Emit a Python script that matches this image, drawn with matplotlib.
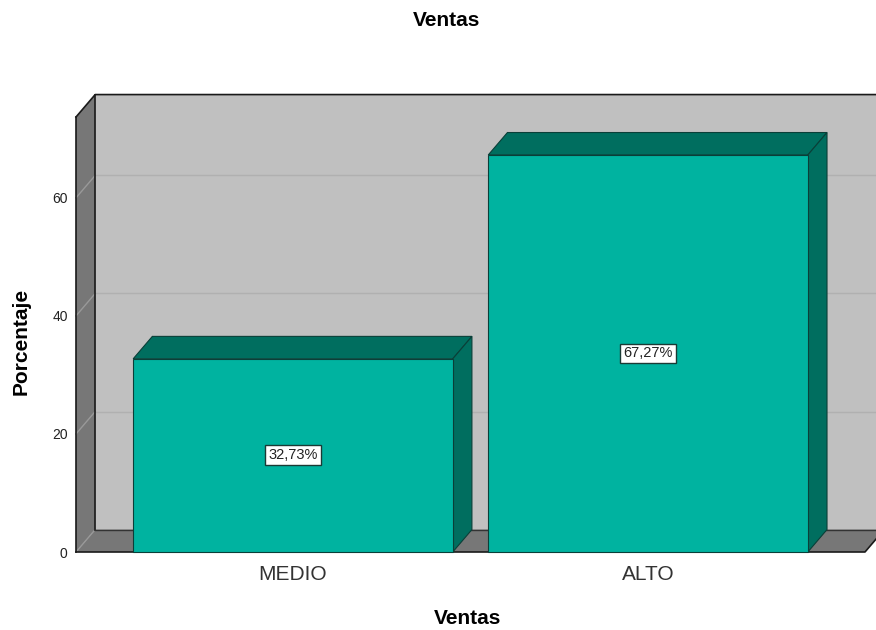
import matplotlib
matplotlib.use("Agg")
import matplotlib.pyplot as plt
from matplotlib.patches import Polygon

categorias = ["MEDIO", "ALTO"]
porcentajes = [32.73, 67.27]
etiquetas = ["32,73%", "67,27%"]
yticks = [0, 20, 40, 60]

plt.rcParams["font.family"] = ["Liberation Sans", "DejaVu Sans"]

fig = plt.figure(figsize=(8.76, 6.3), dpi=100)
ax = fig.add_axes([76 / 876, 78 / 630, 789 / 876, 435 / 630])

x0, x1 = -0.611, 1.611
ytop = 73.7
dx, dy = 0.054, 3.8   # profundidad 3D
ancho = 0.9
xder = x1 + 0.2       # la pared del fondo se sale de la figura

ax.set_xlim(x0, x1)
ax.set_ylim(0, ytop)
for s in ax.spines.values():
    s.set_visible(False)

def poly(pts, color, z, ec="none", lw=0):
    ax.add_patch(Polygon(pts, closed=True, facecolor=color, edgecolor=ec,
                         linewidth=lw, zorder=z, clip_on=False))

# paredes
poly([(x0 + dx, dy), (xder, dy), (xder, ytop + dy), (x0 + dx, ytop + dy)], "#c0c0c0", 1)
poly([(x0, 0), (x0 + dx, dy), (x0 + dx, ytop + dy), (x0, ytop)], "#777777", 1)
poly([(x0, 0), (x1, 0), (x1 + dx, dy), (x0 + dx, dy)], "#777777", 1)

# lineas de cuadricula
for t in yticks[1:]:
    ax.plot([x0 + dx, xder], [t + dy, t + dy], color="#b0b0b0", lw=1, zorder=2, clip_on=False)
    ax.plot([x0, x0 + dx], [t, t + dy], color="#999999", lw=1, zorder=2, clip_on=False)
ax.plot([x0, x0 + dx], [0, dy], color="#999999", lw=1, zorder=2, clip_on=False)

# bordes
k = dict(color="#1a1a1a", lw=1.2, zorder=3, clip_on=False)
ax.plot([x0, x0], [0, ytop], **k)
ax.plot([x0, x0 + dx, xder], [ytop, ytop + dy, ytop + dy], **k)
ax.plot([x0 + dx, x0 + dx], [dy, ytop + dy], **k)
ax.plot([x0, x1, x1 + dx], [0, 0, dy], **k)
ax.plot([x0 + dx, xder], [dy, dy], color="#333333", lw=1, zorder=3, clip_on=False)

# barras
for i, v in enumerate(porcentajes):
    a, b = i - ancho / 2, i + ancho / 2
    poly([(a, v), (b, v), (b + dx, v + dy), (a + dx, v + dy)], "#006e5f", 4, "#0a3f38", 0.8)
    poly([(b, 0), (b + dx, dy), (b + dx, v + dy), (b, v)], "#006e5f", 4, "#0a3f38", 0.8)
    poly([(a, 0), (b, 0), (b, v), (a, v)], "#00b3a0", 5, "#0a3f38", 0.8)
    ax.text(i, v / 2, etiquetas[i], ha="center", va="center", fontsize=10.5, color="#222222",
            zorder=6, bbox=dict(boxstyle="square,pad=0.2", facecolor="white",
                                edgecolor="#1a3a35", linewidth=1))

ax.set_yticks(yticks)
ax.tick_params(axis="y", length=0, pad=6, labelsize=10, labelcolor="#222222")
ax.set_xticks(range(len(categorias)), categorias)
ax.tick_params(axis="x", length=0, pad=9, labelsize=15, labelcolor="#333333")

fig.text(447 / 876, 1 - 21 / 630, "Ventas", ha="center", va="center", fontsize=15, fontweight="bold")
fig.text(468 / 876, 1 - 618 / 630, "Ventas", ha="center", va="center", fontsize=15, fontweight="bold")
fig.text(21 / 876, 1 - 341 / 630, "Porcentaje", ha="center", va="center", rotation=90,
         fontsize=15, fontweight="bold")

fig.savefig("out.png", dpi=100)
